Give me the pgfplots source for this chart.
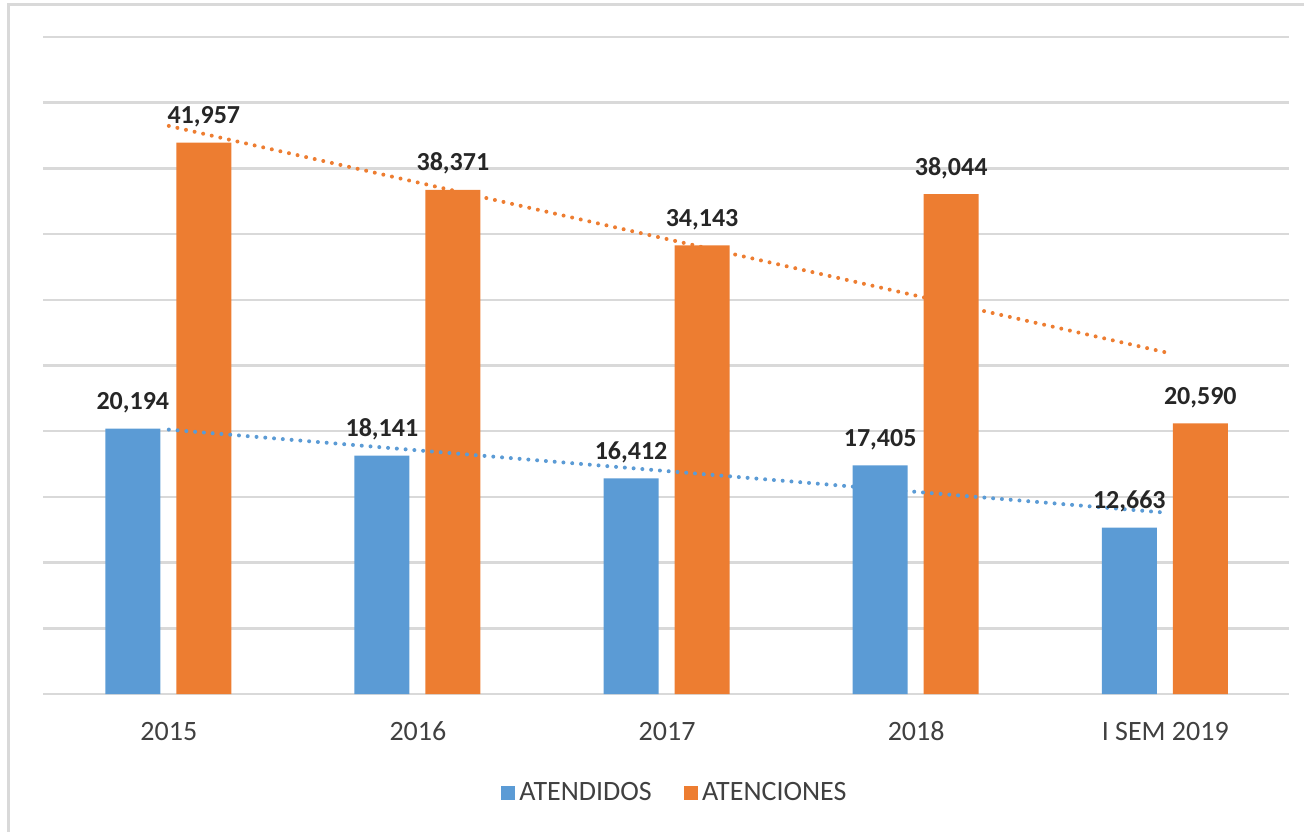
\documentclass[border=0pt]{standalone}
\usepackage{pgfplots}
\pgfplotsset{compat=1.18}
\usepackage{fontspec}
\setmainfont{Carlito}
\definecolor{cblue}{HTML}{5B9BD5}
\definecolor{corange}{HTML}{ED7D31}
\definecolor{cgrid}{HTML}{D9D9D9}
\definecolor{ctext}{HTML}{404040}
\definecolor{clabel}{HTML}{262626}
\begin{document}
\begin{tikzpicture}
\useasboundingbox (0,0) rectangle (652pt,415.5pt);
\draw[cgrid, line width=1.5pt] (4pt,-5pt) -- (4pt,413pt) -- (660pt,413pt);
\begin{axis}[
  at={(21.5pt,68.5pt)}, anchor=south west,
  scale only axis, width=622.8pt, height=328.5pt,
  xmin=0.495, xmax=5.495, ymin=0, ymax=50000,
  xtick={1,2,3,4,5},
  xticklabels={2015,2016,2017,2018,I SEM 2019},
  ytick={0,5000,...,50000}, yticklabels={},
  scaled y ticks=false,
  ymajorgrids, grid style={cgrid, line width=1.2pt},
  axis line style={draw=none},
  major tick length=0pt,
  xticklabel style={font=\fontsize{14}{16}\selectfont, text=ctext, anchor=base, yshift=-23pt},
  legend style={draw=none, fill=none, font=\fontsize{14}{16}\selectfont, text=ctext,
    at={(0.5080,-0.1507)}, anchor=center,
    /tikz/every even column/.append style={column sep=14pt}},
  legend columns=2,
  legend cell align=left,
  mybar/.style={ybar, bar width=27.5pt, draw=none,
    legend image code/.code={\fill[##1] (0pt,-3.6pt) rectangle (7.2pt,3.6pt);},
    nodes near coords={\pgfmathprintnumber[fixed, precision=0, 1000 sep={,}, assume math mode=true]{\pgfplotspointmeta}},
    every node near coord/.append style={font=\bfseries\fontsize{13}{15}\selectfont, text=clabel, anchor=base, yshift=9.5pt, inner sep=0pt}},
  trend/.style={forget plot, line width=2pt, line cap=round, dash pattern=on 0pt off 4.4pt},
]
\addplot[mybar, bar shift=-18pt, fill=cblue, every node near coord/.append style={xshift=-18pt}] coordinates {(1,20194) (2,18141) (3,16412) (4,17405) (5,12663)};
\addlegendentry{ATENDIDOS}
\addplot[mybar, bar shift=17.5pt, fill=corange, every node near coord/.append style={xshift=17.5pt}] coordinates {(1,41957) (2,38371) (3,34143) (4,38044) (5,20590)};
\addlegendentry{ATENCIONES}
\addplot[trend, corange] coordinates {(1,43233) (5,26009)};
\addplot[trend, cblue] coordinates {(1,20123) (5,13803)};
\end{axis}
\end{tikzpicture}
\end{document}
